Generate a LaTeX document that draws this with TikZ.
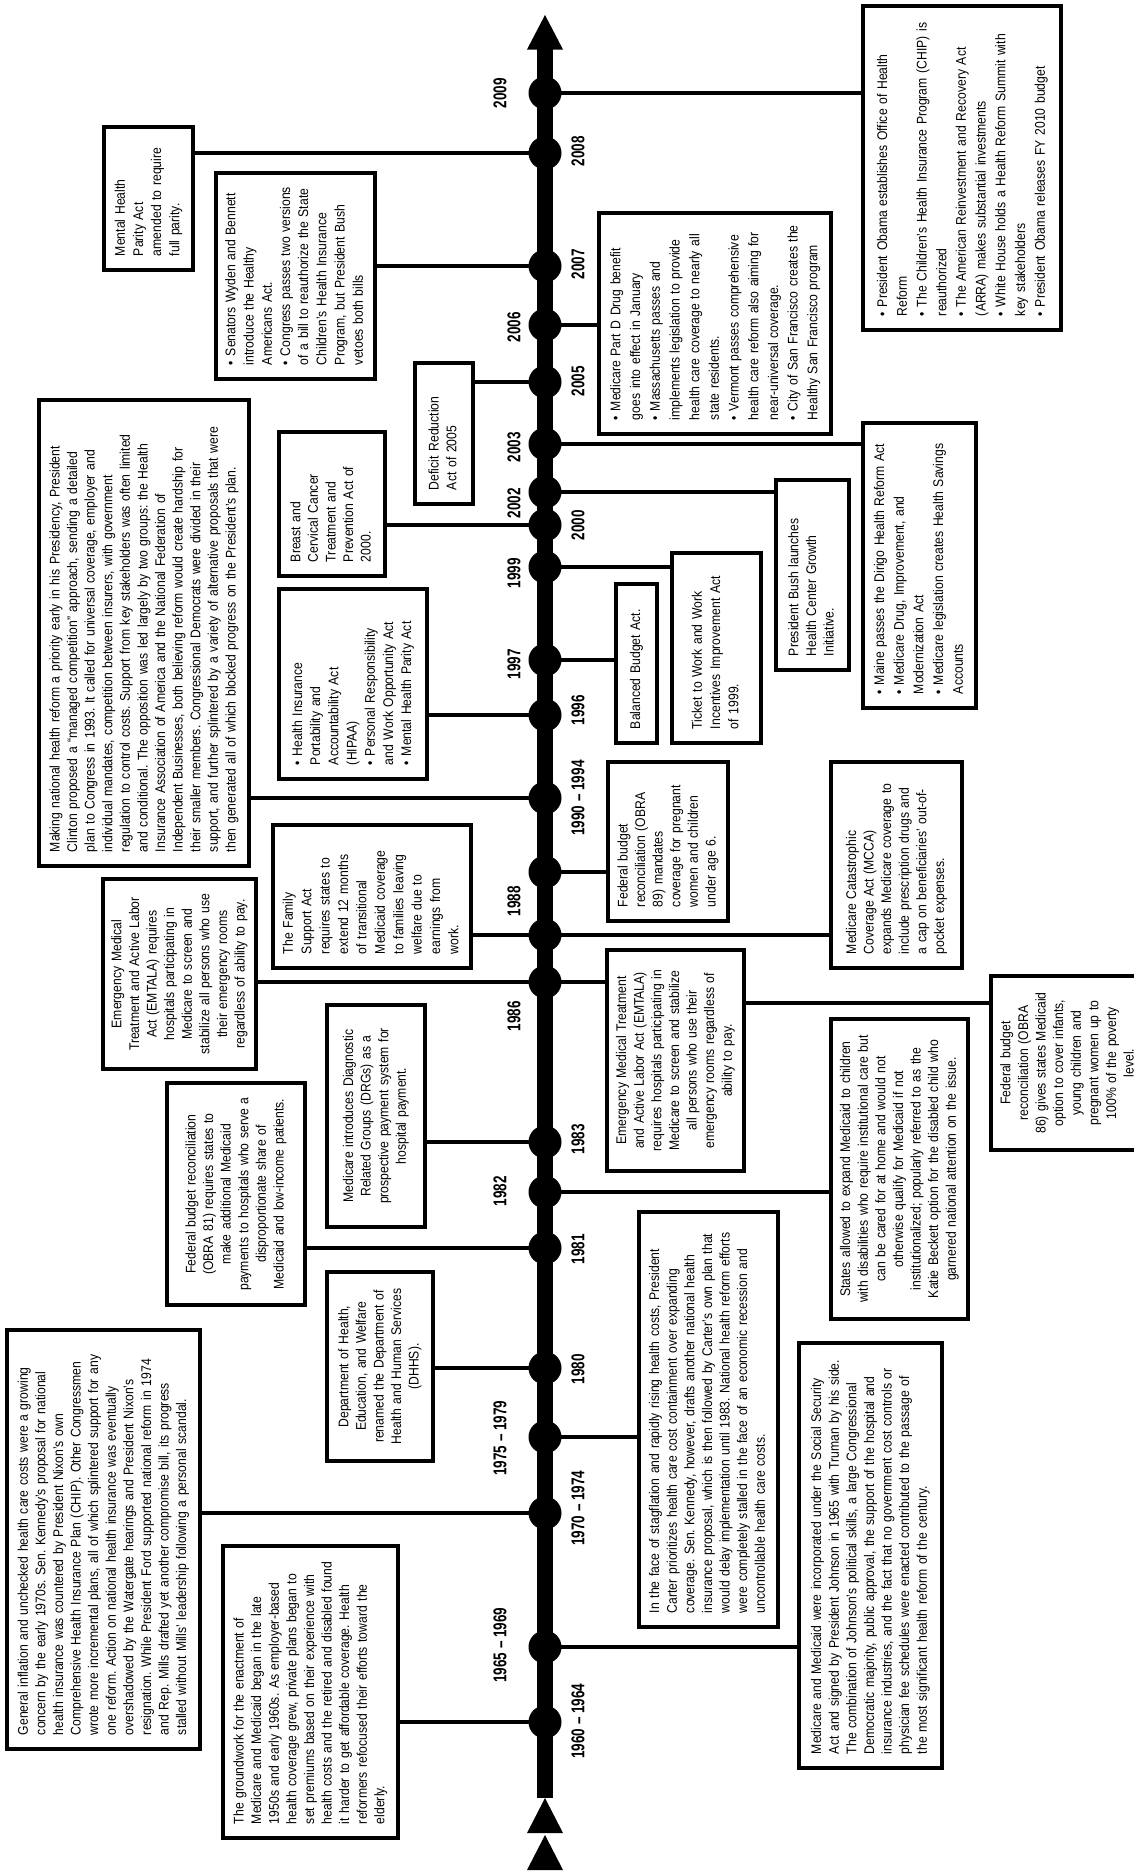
\documentclass[tikz,border=0pt]{standalone}
\usepackage{fontspec}
\setmainfont{Liberation Sans}[FakeStretch=0.87]
\newfontfamily\yrfont{Liberation Sans}[FakeStretch=0.73]
\frenchspacing
\newcommand\mylt[1]{\begin{tabular}{@{}l@{}}#1\end{tabular}}
\newcommand\myct[1]{\begin{tabular}{@{}c@{}}#1\end{tabular}}
\tikzset{
  box/.style={draw=black, fill=white, line width=3.6pt, rotate=90, inner ysep=0pt, inner xsep=14pt, font=\fontsize{14}{17.6}\selectfont},
  lbox/.style={box, align=left},
  cbox/.style={box, align=center},
  dot/.style={circle, fill=black, minimum size=33pt, inner sep=0pt},
  yr/.style={rotate=90, inner sep=0pt, font=\fontsize{18.5}{20}\selectfont\yrfont\bfseries},
  conn/.style={line width=3.2pt},
}
\begin{document}
\begin{tikzpicture}[x=1pt,y=-1pt]
\useasboundingbox (0,0) rectangle (1134,1871);
\fill[white] (0,0) rectangle (1134,1871);
\clip (0,0) rectangle (1134,1871);
% axis
\coordinate (axtop) at (545,46);
\coordinate (axbot) at (545,1798);
\draw[line width=15.5pt] (axtop) -- (axbot);
\fill (545,15) -- (527,49.5) -- (563,49.5) -- cycle;
\fill (545,1798) -- (527,1833) -- (563,1833) -- cycle;
\fill (545,1835) -- (527,1870) -- (563,1870) -- cycle;
% dots
\foreach \n/\yy in {2009/93,2008/153,2007/266,2006/325,2005/382,2003/444,2002/492,2000/525,1999/567,1997/660,1996/715,1990/798,1989/872,1988/935,1986/982,1983/1142,1982/1192,1981/1248,1980/1368,1975/1437,1970/1513,1965/1647,1960/1722}
  \node[dot] (d\n) at (545,\yy) {};
% year labels
\node[yr] (y2009) at (500,93) {2009};
\node[yr] (y2008) at (578,151) {2008};
\node[yr] (y2007) at (578,264) {2007};
\node[yr] (y2006) at (514,327) {2006};
\node[yr] (y2005) at (578,381) {2005};
\node[yr] (y2003) at (514,447) {2003};
\node[yr] (y2002) at (514,503) {2002};
\node[yr] (y2000) at (578,525) {2000};
\node[yr] (y1999) at (514,573) {1999};
\node[yr] (y1997) at (514,664) {1997};
\node[yr] (y1996) at (578,710) {1996};
\node[yr] (y1990) at (578,798) {1990 – 1994};
\node[yr] (y1988) at (514,901) {1988};
\node[yr] (y1986) at (514,1016) {1986};
\node[yr] (y1983) at (578,1139) {1983};
\node[yr] (y1982) at (500,1191) {1982};
\node[yr] (y1981) at (578,1249) {1981};
\node[yr] (y1980) at (578,1369) {1980};
\node[yr] (y1975) at (500,1438) {1975 – 1979};
\node[yr] (y1970) at (578,1508) {1970 – 1974};
\node[yr] (y1965) at (500,1645) {1965 – 1969};
\node[yr] (y1960) at (578,1721) {1960 – 1964};
% ---------- boxes, left side ----------
\node[lbox, minimum width=419pt, minimum height=193pt, text width=391pt] (gi) at (103.5,1539.5) {\mylt{General inflation and unchecked health care costs were a growing\\concern by the early 1970s. Sen. Kennedy’s proposal for national\\health insurance was countered by President Nixon’s own\\Comprehensive Health Insurance Plan (CHIP). Other Congressmen\\wrote more incremental plans, all of which splintered support for any\\one reform. Action on national health insurance was eventually\\overshadowed by the Watergate hearings and President Nixon’s\\resignation. While President Ford supported national reform in 1974\\and Rep. Mills drafted yet another compromise bill, its progress\\stalled without Mills’ leadership following a personal scandal.}};
\node[lbox, minimum width=292pt, minimum height=175pt, text width=264pt] (gw) at (310.5,1692) {\mylt{The groundwork for the enactment of\\Medicare and Medicaid began in the late\\1950s and early 1960s. As employer-based\\health coverage grew, private plans began to\\set premiums based on their experience with\\health costs and the retired and disabled found\\it harder to get affordable coverage. Health\\reformers refocused their efforts toward the\\elderly.}};
\node[cbox, minimum width=189pt, minimum height=106pt, text width=161pt] (dhhs) at (380,1366.5) {\myct{Department of Health,\\Education, and Welfare\\renamed the Department of\\Health and Human Services\\(DHHS).}};
\node[cbox, minimum width=222pt, minimum height=138pt, text width=194pt] (ob81) at (236,1194) {\myct{Federal budget reconciliation\\(OBRA 81) requires states to\\make additional Medicaid\\payments to hospitals who serve a\\disproportionate share of\\Medicaid and low-income patients.}};
\node[cbox, minimum width=222pt, minimum height=98pt, text width=194pt] (drg) at (376,1116) {\myct{Medicare introduces Diagnostic\\Related Groups (DRGs) as a\\prospective payment system for\\hospital payment.}};
\node[cbox, minimum width=190pt, minimum height=153pt, text width=162pt] (eml) at (179.5,974) {\myct{Emergency Medical\\Treatment and Active Labor\\Act (EMTALA) requires\\hospitals participating in\\Medicare to screen and\\stabilize all persons who use\\their emergency rooms\\regardless of ability to pay.}};
\node[lbox, minimum width=143pt, minimum height=198pt, text width=115pt, font=\fontsize{14}{18.4}\selectfont] (fam) at (372,896.5) {\mylt{The Family\\Support Act\\requires states to\\extend 12 months\\of transitional\\Medicaid coverage\\to families leaving\\welfare due to\\earnings from\\work.}};
\node[lbox, minimum width=466pt, minimum height=210pt, text width=438pt] (clin) at (144,633) {\mylt{Making national health reform a priority early in his Presidency, President\\Clinton proposed a “managed competition” approach, sending a detailed\\plan to Congress in 1993. It called for universal coverage, employer and\\individual mandates, competition between insurers, with government\\regulation to control costs. Support from key stakeholders was often limited\\and conditional. The opposition was led largely by two groups: the Health\\Insurance Association of America and the National Federation of\\Independent Businesses, both believing reform would create hardship for\\their smaller members. Congressional Democrats were divided in their\\support, and further splintered by a variety of alternative proposals that were\\then generated all of which blocked progress on the President’s plan.}};
\node[lbox, minimum width=190pt, minimum height=148pt, text width=162pt, font=\fontsize{14}{18.2}\selectfont] (hipaa) at (353,684) {\mylt{• Health Insurance\\Portability and\\Accountability Act\\(HIPAA)\\• Personal Responsibility\\and Work Opportunity Act\\• Mental Health Parity Act}};
\node[lbox, minimum width=144pt, minimum height=106pt, text width=116pt] (brc) at (332,504) {\mylt{Breast and\\Cervical Cancer\\Treatment and\\Prevention Act of\\2000.}};
\node[lbox, minimum width=141pt, minimum height=58pt, text width=113pt] (dra) at (444,433.5) {\mylt{Deficit Reduction\\Act of 2005}};
\node[lbox, minimum width=206pt, minimum height=159pt, text width=178pt, font=\fontsize{14}{18.2}\selectfont] (sen) at (295.5,276) {\mylt{• Senators Wyden and Bennett\\introduce the Healthy\\Americans Act.\\• Congress passes two versions\\of a bill to reauthorize the State\\Children’s Health Insurance\\Program, but President Bush\\vetoes both bills}};
\node[lbox, minimum width=143pt, minimum height=89pt, text width=115pt, font=\fontsize{14}{18.2}\selectfont] (mhp) at (148.5,198.5) {\mylt{Mental Health\\Parity Act\\amended to require\\full parity.}};
% ---------- boxes, right side ----------
\node[lbox, minimum width=324pt, minimum height=198pt, text width=296pt, font=\fontsize{14}{19.7}\selectfont] (obama) at (962,168) {\mylt{• President Obama establishes Office of Health\\Reform\\• The Children’s Health Insurance Program (CHIP) is\\reauthorized\\• The American Reinvestment and Recovery Act\\(ARRA) makes substantial investments\\• White House holds a Health Reform Summit with\\key stakeholders\\• President Obama releases FY 2010 budget}};
\node[lbox, minimum width=221pt, minimum height=232pt, text width=193pt, font=\fontsize{14}{19.7}\selectfont] (partd) at (715,323.5) {\mylt{• Medicare Part D Drug benefit\\goes into effect in January\\• Massachusetts passes and\\implements legislation to provide\\health care coverage to nearly all\\state residents.\\• Vermont passes comprehensive\\health care reform also aiming for\\near-universal coverage.\\• City of San Francisco creates the\\Healthy San Francisco program}};
\node[lbox, minimum width=285pt, minimum height=113pt, text width=257pt, font=\fontsize{14}{19.7}\selectfont] (maine) at (919.5,565.5) {\mylt{• Maine passes the Dirigo Health Reform Act\\• Medicare Drug, Improvement, and\\Modernization Act\\• Medicare legislation creates Health Savings\\Accounts}};
\node[lbox, minimum width=190pt, minimum height=73pt, text width=162pt] (bush) at (812.5,575) {\mylt{President Bush launches\\Health Center Growth\\Initiative.}};
\node[lbox, minimum width=159pt, minimum height=41pt, text width=131pt] (bba) at (636.5,663.5) {\mylt{Balanced Budget Act.}};
\node[lbox, minimum width=190pt, minimum height=89pt, text width=162pt, font=\fontsize{14}{18.2}\selectfont] (tick) at (716.5,648) {\mylt{Ticket to Work and Work\\Incentives Improvement Act\\of 1999.}};
\node[lbox, minimum width=159pt, minimum height=120pt, text width=131pt] (ob89) at (668,841.5) {\mylt{Federal budget\\reconciliation (OBRA\\89) mandates\\coverage for pregnant\\women and children\\under age 6.}};
\node[lbox, minimum width=206pt, minimum height=131pt, text width=178pt] (mcca) at (896.5,865) {\mylt{Medicare Catastrophic\\Coverage Act (MCCA)\\expands Medicare coverage to\\include prescription drugs and\\a cap on beneficiaries’ out-of-\\pocket expenses.}};
\node[cbox, minimum width=221pt, minimum height=137pt, text width=193pt] (emr) at (675.5,1060.5) {\myct{Emergency Medical Treatment\\and Active Labor Act (EMTALA)\\requires hospitals participating in\\Medicare to screen and stabilize\\all persons who use their\\emergency rooms regardless of\\ability to pay.}};
\node[cbox, minimum width=174pt, minimum height=155pt, text width=146pt] (ob86) at (1068.5,1063) {\myct{Federal budget\\reconciliation (OBRA\\86) gives states Medicaid\\option to cover infants,\\young children and\\pregnant women up to\\100\% of the poverty\\level.}};
\node[cbox, minimum width=300pt, minimum height=137pt, text width=272pt] (kb) at (899.5,1169) {\myct{States allowed to expand Medicaid to children\\with disabilities who require institutional care but\\can be cared for at home and would not\\otherwise qualify for Medicaid if not\\institutionalized; popularly referred to as the\\Katie Beckett option for the disabled child who\\garnered national attention on the issue.}};
\node[lbox, minimum width=415pt, minimum height=139pt, text width=387pt] (cart) at (708.5,1419.5) {\mylt{In the face of stagflation and rapidly rising health costs, President\\Carter prioritizes health care cost containment over expanding\\coverage. Sen. Kennedy, however, drafts another national health\\insurance proposal, which is then followed by Carter’s own plan that\\would delay implementation until 1983. National health reform efforts\\were completely stalled in the face of an economic recession and\\uncontrollable health care costs.}};
\node[lbox, minimum width=425pt, minimum height=143pt, text width=397pt] (mm) at (870.5,1555.5) {\mylt{Medicare and Medicaid were incorporated under the Social Security\\Act and signed by President Johnson in 1965 with Truman by his side.\\The combination of Johnson’s political skills, a large Congressional\\Democratic majority, public approval, the support of the hospital and\\insurance industries, and the fact that no government cost controls or\\physician fee schedules were enacted contributed to the passage of\\the most significant health reform of the century.}};
% ---------- connectors ----------
\draw[conn] (d2009.center) -- (d2009 -| obama.north);
\draw[conn] (mhp.south |- d2008) -- (d2008.center);
\draw[conn] (sen.south |- d2007) -- (d2007.center);
\draw[conn] (d2006.center) -- (d2006 -| partd.north);
\draw[conn] (dra.south |- d2005) -- (d2005.center);
\draw[conn] (d2003.center) -- (d2003 -| maine.north);
\draw[conn] (d2002.center) -- (d2002 -| bush.north);
\draw[conn] (brc.south |- d2000) -- (d2000.center);
\draw[conn] (d1999.center) -- (d1999 -| tick.north);
\draw[conn] (d1997.center) -- (d1997 -| bba.north);
\draw[conn] (hipaa.south |- d1996) -- (d1996.center);
\draw[conn] (clin.south |- d1990) -- (d1990.center);
\draw[conn] (d1989.center) -- (d1989 -| ob89.north);
\draw[conn] (fam.south |- d1988) -- (d1988.center);
\draw[conn] (d1988.center) -- (d1988 -| mcca.north);
\draw[conn] (eml.south |- d1986) -- (d1986.center);
\draw[conn] (d1986.center) -- (d1986 -| emr.north);
\coordinate (j86) at (0,1003);
\draw[conn] (emr.south |- j86) -- (ob86.north |- j86);
\draw[conn] (drg.south |- d1983) -- (d1983.center);
\draw[conn] (d1982.center) -- (d1982 -| kb.north);
\draw[conn] (ob81.south |- d1981) -- (d1981.center);
\draw[conn] (dhhs.south |- d1980) -- (d1980.center);
\draw[conn] (d1975.center) -- (d1975 -| cart.north);
\draw[conn] (gi.south |- d1970) -- (d1970.center);
\draw[conn] (d1965.center) -- (d1965 -| mm.north);
\draw[conn] (gw.south |- d1960) -- (d1960.center);
\end{tikzpicture}
\end{document}
